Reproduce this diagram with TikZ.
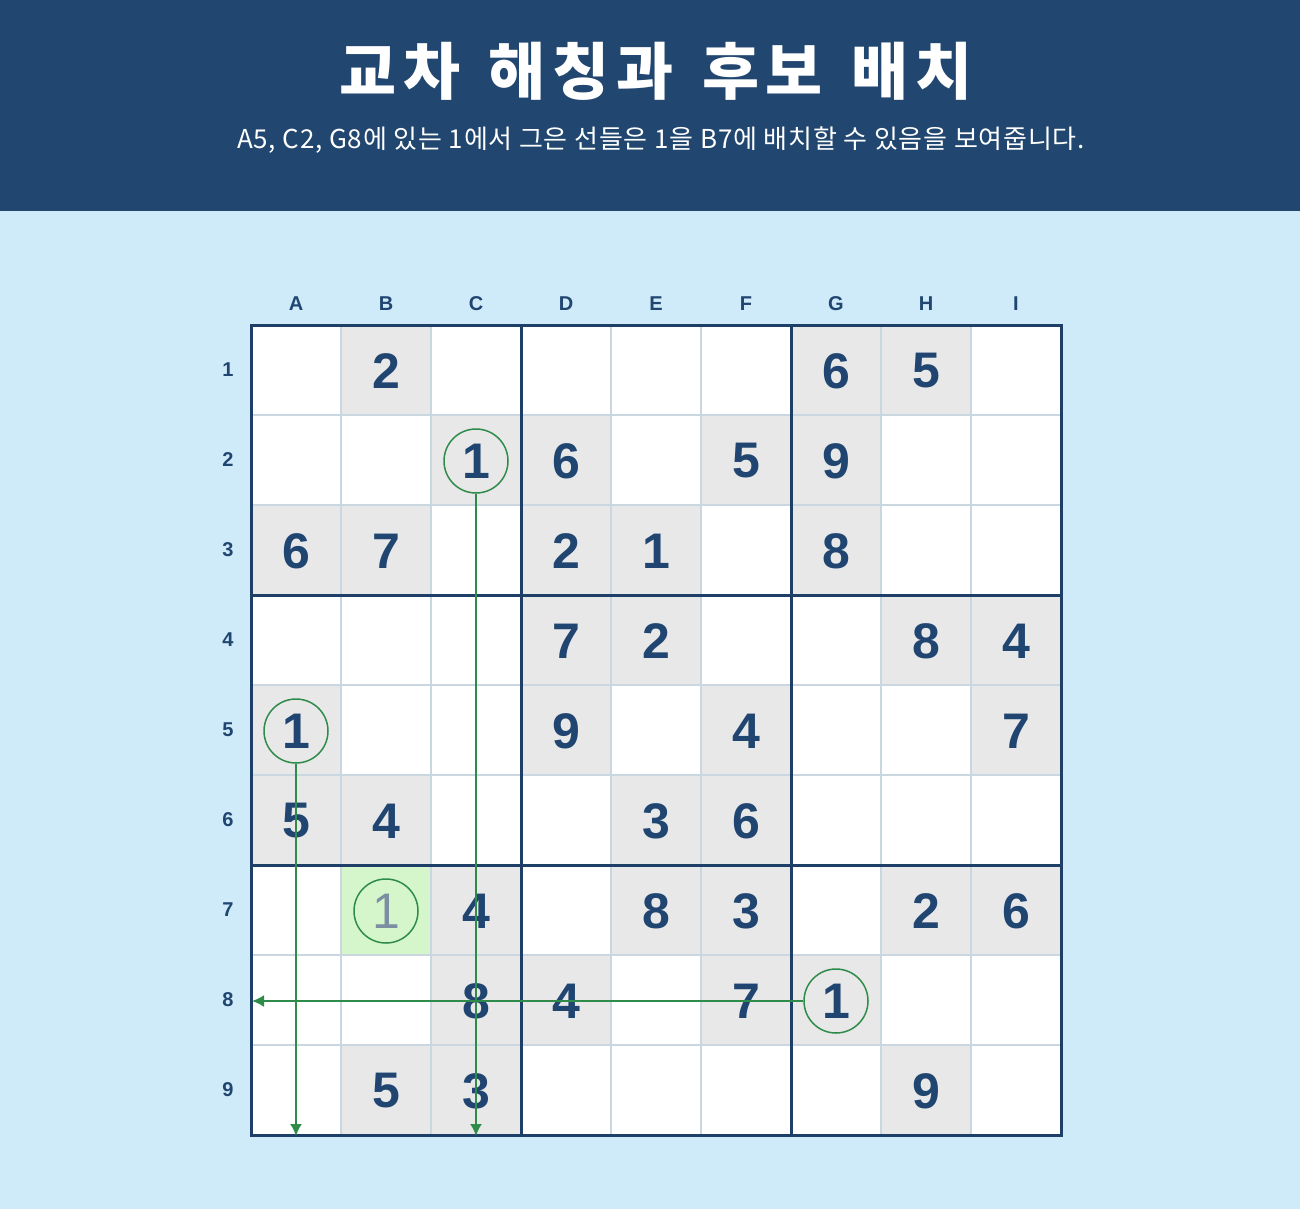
\documentclass[tikz,border=0pt]{standalone}
\usepackage{fontspec}
\setmainfont{Liberation Sans}
\newfontfamily\krfont{Noto Sans CJK KR}
\newfontfamily\krtitle{Noto Sans CJK KR}[LetterSpace=11,WordSpace=1.35]
\newfontfamily\krsub{Noto Sans CJK KR}[LetterSpace=3]
\usetikzlibrary{arrows.meta}
\definecolor{hdr}{HTML}{21466F}
\definecolor{pagebg}{HTML}{CFEBF9}
\definecolor{ink}{HTML}{1F4570}
\definecolor{given}{HTML}{E8E8E8}
\definecolor{thinline}{HTML}{C9D7E1}
\definecolor{thickline}{HTML}{1E3F68}
\definecolor{grn}{HTML}{2E8B4A}
\definecolor{cand}{HTML}{D5F6CB}
\definecolor{candink}{HTML}{7C8FA2}
\begin{document}
\begin{tikzpicture}[x=1pt,y=-1pt,
  titletext/.style={text=white,font=\krtitle\bfseries\fontsize{62}{62}\selectfont,inner sep=0pt},
  subtext/.style={text=white,font=\krsub\fontsize{26}{26}\selectfont,inner sep=0pt},
  axislabel/.style={text=ink,font=\bfseries\fontsize{20}{20}\selectfont,inner sep=0pt},
  digit/.style={text=ink,font=\bfseries\fontsize{50}{50}\selectfont,inner sep=0pt},
  canddigit/.style={text=candink,font=\fontsize{50}{50}\selectfont,inner sep=0pt},
  ring/.style={circle,draw=grn,line width=1.5pt,minimum size=64pt,inner sep=0pt},
  hatch/.style={draw=grn,line width=2pt,-{Latex[length=12pt,width=12pt]}}
]
\useasboundingbox (0,0) rectangle (1300,1209);
\fill[pagebg] (0,0) rectangle (1300,1209);
\fill[hdr] (0,0) rectangle (1300,211);
\node[titletext] (title) at (656,71) {교차 해칭과 후보 배치};
\node[subtext] (subtitle) at (661,140) {A5, C2, G8에 있는 1에서 그은 선들은 1을 B7에 배치할 수 있음을 보여줍니다.};

% grid background
\fill[white] (251,325) rectangle (1061,1135);
% given cells
\foreach \c/\r/\d in {2/1/2,7/1/6,8/1/5,
  3/2/1,4/2/6,6/2/5,7/2/9,
  1/3/6,2/3/7,4/3/2,5/3/1,7/3/8,
  4/4/7,5/4/2,8/4/8,9/4/4,
  1/5/1,4/5/9,6/5/4,9/5/7,
  1/6/5,2/6/4,5/6/3,6/6/6,
  3/7/4,5/7/8,6/7/3,8/7/2,9/7/6,
  3/8/8,4/8/4,6/8/7,7/8/1,
  2/9/5,3/9/3,8/9/9}{
  \fill[given] ({251+90*(\c-1)},{325+90*(\r-1)}) rectangle ++(90,90);
}
\fill[cand] (341,865) rectangle ++(90,90);
% thin lines
\foreach \i in {1,2,4,5,7,8}{
  \draw[thinline,line width=1.5pt] ({251+90*\i},325) -- ({251+90*\i},1135);
  \draw[thinline,line width=1.5pt] (251,{325+90*\i}) -- (1061,{325+90*\i});
}
% thick lines
\foreach \i in {3,6}{
  \draw[thickline,line width=3pt] ({251+90*\i},325) -- ({251+90*\i},1135);
  \draw[thickline,line width=3pt] (251,{325+90*\i}) -- (1061,{325+90*\i});
}
\draw[thickline,line width=3pt] (251,325) rectangle (1061,1135);

% labels
\foreach \l [count=\i] in {A,B,C,D,E,F,G,H,I}{
  \node[axislabel] (col-\l) at ({251+90*(\i-0.5)},304) {\l};
}
\foreach \i in {1,...,9}{
  \node[axislabel] (row-\i) at (228,{325+90*(\i-0.5)}) {\i};
}
% digits
\foreach \c/\r/\d in {2/1/2,7/1/6,8/1/5,
  3/2/1,4/2/6,6/2/5,7/2/9,
  1/3/6,2/3/7,4/3/2,5/3/1,7/3/8,
  4/4/7,5/4/2,8/4/8,9/4/4,
  1/5/1,4/5/9,6/5/4,9/5/7,
  1/6/5,2/6/4,5/6/3,6/6/6,
  3/7/4,5/7/8,6/7/3,8/7/2,9/7/6,
  3/8/8,4/8/4,6/8/7,7/8/1,
  2/9/5,3/9/3,8/9/9}{
  \node[digit] (d-\c-\r) at ({251+90*(\c-0.5)},{325+90*(\r-0.5)+1}) {\d};
}
\node[canddigit] (d-2-7) at (386,911) {1};

% rings
\node[ring] (ringC2) at (476,461) {};
\node[ring] (ringA5) at (296,731) {};
\node[ring] (ringG8) at (836,1001) {};
\node[ring] (ringB7) at (386,911) {};

% hatch lines
\coordinate (endA) at (296,1136);
\coordinate (endC) at (476,1136);
\coordinate (end8) at (252,1001);
\draw[hatch] (ringA5.south) -- (endA);
\draw[hatch] (ringC2.south) -- (endC);
\draw[hatch] (ringG8.west) -- (end8);
\end{tikzpicture}
\end{document}
